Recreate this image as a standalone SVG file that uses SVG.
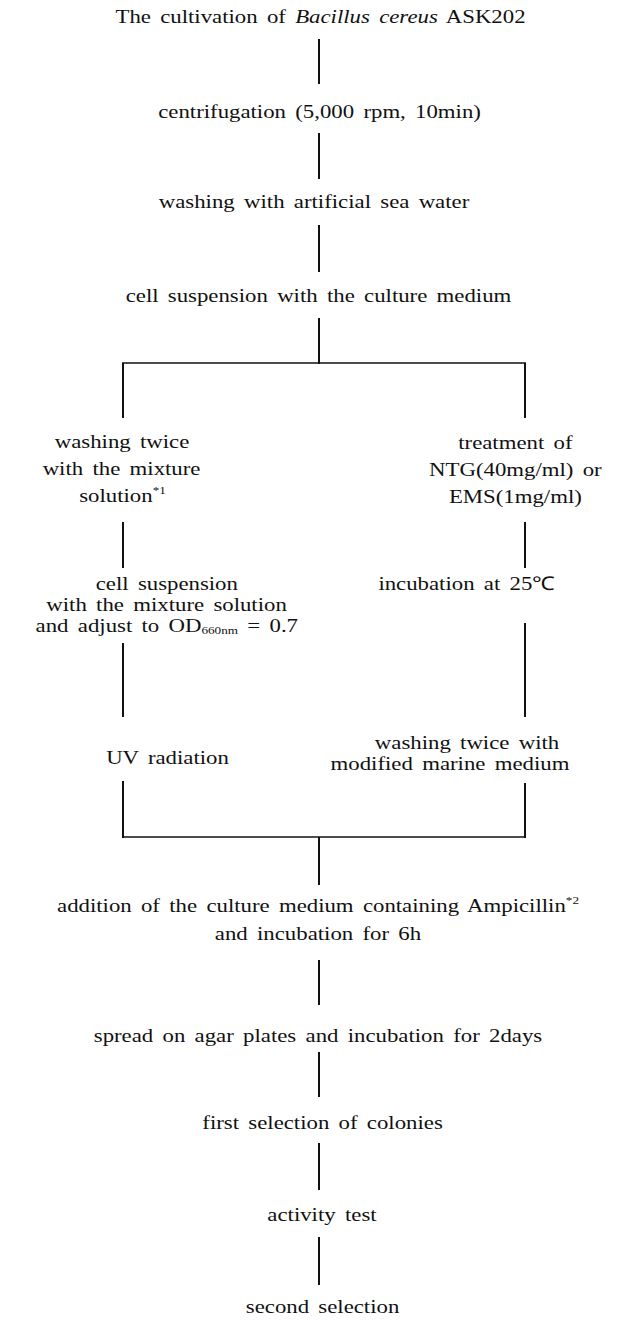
<svg xmlns="http://www.w3.org/2000/svg" width="640" height="1321" viewBox="0 0 640 1321">
<style>
text{font-family:"Liberation Serif","Times New Roman",serif;font-size:19px;word-spacing:3px;fill:#111;text-anchor:middle}
.sm{font-size:11px;word-spacing:0}
.it{font-style:italic}
.c line{stroke:#111;stroke-width:2}
.c .h{stroke-width:1.6}
</style>
<rect width="640" height="1321" fill="#fff"/>
<g class="c" id="connectors">
<line x1="319" y1="39" x2="319" y2="84"/>
<line x1="319" y1="133" x2="319" y2="179"/>
<line x1="319" y1="225" x2="319" y2="272"/>
<line x1="319" y1="318" x2="319" y2="364"/>
<line class="h" x1="122" y1="363" x2="526" y2="363"/>
<line x1="123" y1="363" x2="123" y2="418"/>
<line x1="525" y1="363" x2="525" y2="418"/>
<line x1="123" y1="522" x2="123" y2="568"/>
<line x1="525" y1="522" x2="525" y2="568"/>
<line x1="123" y1="643" x2="123" y2="717"/>
<line x1="525" y1="623" x2="525" y2="717"/>
<line x1="123" y1="781" x2="123" y2="838"/>
<line x1="525" y1="783" x2="525" y2="838"/>
<line class="h" x1="122" y1="837" x2="526" y2="837"/>
<line x1="319" y1="837" x2="319" y2="885"/>
<line x1="319" y1="960" x2="319" y2="1005"/>
<line x1="319" y1="1052" x2="319" y2="1097"/>
<line x1="319" y1="1143" x2="319" y2="1190"/>
<line x1="319" y1="1237" x2="319" y2="1285"/>
</g>
<g id="n1" transform="scale(1.2 1)"><text x="267.1" y="23">The cultivation of <tspan class="it">Bacillus cereus</tspan> ASK202</text></g>
<g id="n2" transform="scale(1.2 1)"><text x="266.3" y="118">centrifugation (5,000 rpm, 10min)</text></g>
<g id="n3" transform="scale(1.2 1)"><text x="261.7" y="208">washing with artificial sea water</text></g>
<g id="n4" transform="scale(1.2 1)"><text x="265.4" y="302">cell suspension with the culture medium</text></g>
<g id="n5" transform="scale(1.2 1)">
<text x="101.7" y="448">washing twice</text>
<text x="101.3" y="475">with the mixture</text>
<text x="102.1" y="502">solution<tspan class="sm" dy="-8">*1</tspan></text>
</g>
<g id="n6" transform="scale(1.2 1)">
<text x="429.5" y="449">treatment of</text>
<text x="429.5" y="476">NTG(40mg/ml) or</text>
<text x="429.5" y="503">EMS(1mg/ml)</text>
</g>
<g id="n7" transform="scale(1.2 1)">
<text x="139" y="590">cell suspension</text>
<text x="138.8" y="611">with the mixture solution</text>
<text x="139" y="632">and adjust to OD<tspan class="sm" dy="2">660nm</tspan><tspan dy="-2"> = 0.7</tspan></text>
</g>
<g id="n8" transform="scale(1.2 1)"><text x="389" y="590">incubation at 25℃</text></g>
<g id="n9" transform="scale(1.2 1)"><text x="139.6" y="764">UV radiation</text></g>
<g id="n10" transform="scale(1.2 1)">
<text x="389.2" y="749">washing twice with</text>
<text x="375" y="770">modified marine medium</text>
</g>
<g id="n11" transform="scale(1.2 1)">
<text x="265" y="912">addition of the culture medium containing Ampicillin<tspan class="sm" dy="-8">*2</tspan></text>
<text x="265" y="940">and incubation for 6h</text>
</g>
<g id="n12" transform="scale(1.2 1)"><text x="265" y="1042">spread on agar plates and incubation for 2days</text></g>
<g id="n13" transform="scale(1.2 1)"><text x="268.8" y="1129">first selection of colonies</text></g>
<g id="n14" transform="scale(1.2 1)"><text x="268.3" y="1221">activity test</text></g>
<g id="n15" transform="scale(1.2 1)"><text x="268.8" y="1313">second selection</text></g>
</svg>
